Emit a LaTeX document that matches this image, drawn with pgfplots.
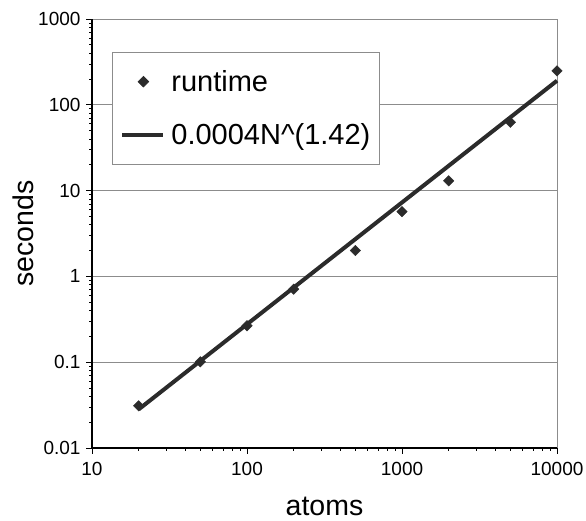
\documentclass[border=0pt]{standalone}
\usepackage{fontspec}
\setmainfont{Liberation Sans}
\usepackage{pgfplots}
\pgfplotsset{compat=1.18}
\definecolor{dk}{HTML}{2B2B2B}
\definecolor{gl}{HTML}{8C8C8C}
\pgfplotsset{
  legmark/.style={legend image code/.code={\path[draw=none,fill=none] (0pt,0pt) (50pt,0pt);\draw[##1] plot coordinates {(24pt,0pt)};}},
  legline/.style={legend image code/.code={\path[draw=none,fill=none] (0pt,0pt) (50pt,0pt);\draw[##1] (3pt,0pt) -- (44pt,0pt);}},
}
\begin{document}
\begin{tikzpicture}
\begin{loglogaxis}[
  scale only axis, width=465pt, height=429pt,
  xmin=10, xmax=10000, ymin=0.01, ymax=1000,
  clip=false,
  xtick={10,100,1000,10000}, xticklabels={10,100,1000,10000},
  ytick={0.01,0.1,1,10,100,1000}, yticklabels={0.01,0.1,1,10,100,1000},
  minor xtick={}, minor ytick={},
  tick align=outside, major tick length=6pt,
  tick style={black, line width=0.7pt},
  axis x line*=bottom, axis y line*=left,
  axis line style={black, line width=1.1pt, -},
  ymajorgrids, major grid style={gl, line width=0.8pt},
  extra x ticks={10000}, extra x tick labels={},
  extra x tick style={xmajorgrids=true, major grid style={gl, line width=0.8pt}},
  ticklabel style={font=\fontsize{19}{22}\selectfont},
  xticklabel style={yshift=-5pt},
  yticklabel style={xshift=-2pt},
  xlabel={atoms}, ylabel={seconds},
  label style={font=\fontsize{28.5}{34}\selectfont},
  xlabel style={at={([yshift=-67pt]axis description cs:0.5,0)}, anchor=base},
  ylabel style={at={([xshift=-59pt]axis description cs:0,0.5)}, anchor=base},
  legend style={at={(axis description cs:0.043,0.923)}, anchor=north west,
    draw=gl, line width=0.8pt, fill=white,
    font=\fontsize{29}{34}\selectfont,
    row sep=27pt, inner xsep=7pt, inner ysep=16pt},
  legend cell align=left,
]
\addplot[only marks, mark=square*, mark size=3.7pt, mark options={rotate=45}, draw=dk, fill=dk, legmark]
  coordinates {(20,0.031) (50,0.101) (100,0.266) (200,0.71) (500,2.0)
               (1000,5.7) (2000,13.0) (5000,62.5) (10000,248)};
\addlegendentry{runtime}
\addplot[dk, line width=4pt, no marks, legline]
  coordinates {(20,0.0282) (10000,191)};
\addlegendentry{0.0004N\textasciicircum(1.42)}
\end{loglogaxis}
\pgfresetboundingbox
\path[use as bounding box] (-92pt,-72pt) rectangle (494pt,448pt);
\end{tikzpicture}
\end{document}
